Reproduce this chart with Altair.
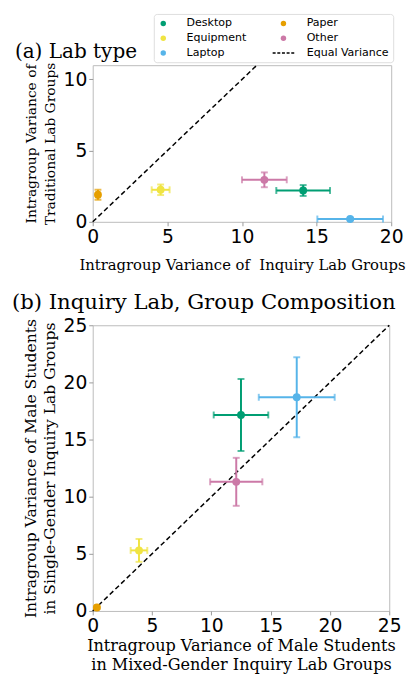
import altair as alt
import pandas as pd

# ---------------- data ----------------
categories = ["Desktop", "Equipment", "Laptop", "Paper", "Other"]
palette = ["#009E73", "#F0E442", "#56B4E9", "#E69F00", "#CC79A7"]
legend_order = ["Desktop", "Equipment", "Laptop", "Paper", "Other", "Equal Variance"]

# (a) Lab type: x = inquiry lab variance, y = traditional lab variance
a_x = [14.1, 4.55, 17.25, 0.35, 11.5]
a_xerr = [1.8, 0.6, 2.2, 0.1, 1.5]
a_y = [2.2, 2.25, 0.2, 1.9, 2.95]
a_yerr = [0.38, 0.37, 0.08, 0.35, 0.52]

# (b) Inquiry lab, group composition
b_x = [12.5, 3.9, 17.2, 0.35, 12.1]
b_xerr = [2.3, 0.7, 3.2, 0.1, 2.2]
b_y = [17.15, 5.3, 18.7, 0.3, 11.3]
b_yerr = [3.15, 1.0, 3.5, 0.1, 2.1]

diag_a = [0, 11]
diag_b = [0, 25]

ticks_a_x = [0, 5, 10, 15, 20]
ticks_a_y = [0, 5, 10]
ticks_b = [0, 5, 10, 15, 20, 25]


def frame(xs, xe, ys, ye):
    df = pd.DataFrame({"cat": categories, "x": xs, "xerr": xe, "y": ys, "yerr": ye})
    df["xlo"] = df["x"] - df["xerr"]
    df["xhi"] = df["x"] + df["xerr"]
    df["ylo"] = df["y"] - df["yerr"]
    df["yhi"] = df["y"] + df["yerr"]
    return df


df_a = frame(a_x, a_xerr, a_y, a_yerr)
df_b = frame(b_x, b_xerr, b_y, b_yerr)
dg_a = pd.DataFrame({"x": diag_a, "y": diag_a})
dg_b = pd.DataFrame({"x": diag_b, "y": diag_b})

color_map = dict(zip(categories, palette))
legend_range = [color_map.get(c, "black") for c in legend_order]


def dash_rects():
    # five short filled dashes, in symbol units (scaled by sqrt(size)/2)
    starts = [-4.0, -2.275, -0.55, 1.175, 2.9]
    parts = []
    for s in starts:
        e = s + 1.1
        parts.append(f"M{s:.3f},-0.28H{e:.3f}V0.28H{s:.3f}Z")
    return "".join(parts)


dash_path = dash_rects()
shape_range = ["circle" if c != "Equal Variance" else dash_path for c in legend_order]

bar_scale = alt.Scale(domain=categories, range=palette)          # marks (no legend)
leg_scale = alt.Scale(domain=legend_order, range=legend_range)   # legend entries
shape_scale = alt.Scale(domain=legend_order, range=shape_range)

legend = alt.Legend(
    title=None, orient="none", legendX=62, legendY=-52, columns=2,
    symbolSize=30, symbolOpacity=1, symbolStrokeWidth=0,
    labelFont="DejaVu Sans", labelFontSize=11.2, labelColor="black",
    padding=4, rowPadding=3, columnPadding=26, labelOffset=18,
    strokeColor="#dddddd", fillColor="white", cornerRadius=3,
)


def panel(df, dg, xdom, ydom, xticks, yticks, xtitle, ytitle, xtfs, ytfs, xtp, ytp,
          ttl, tfs, toff, dx, with_legend, w, h):
    ax_x = alt.Axis(values=xticks, title=xtitle, titlePadding=xtp, titleFontSize=xtfs)
    ax_y = alt.Axis(values=yticks, title=ytitle, titlePadding=ytp, titleFontSize=ytfs)
    sx = alt.Scale(domain=xdom, nice=False, zero=False)
    sy = alt.Scale(domain=ydom, nice=False, zero=False)

    def X(f):
        return alt.X(f + ":Q", scale=sx, axis=ax_x)

    def Y(f):
        return alt.Y(f + ":Q", scale=sy, axis=ax_y)

    col = alt.Color("cat:N", scale=bar_scale, legend=None)
    base = alt.Chart(df)
    diag = alt.Chart(dg).mark_line(color="black", strokeDash=[5, 3], strokeWidth=1.5).encode(
        x=X("x"), y=Y("y"))
    hbar = base.mark_rule(strokeWidth=2).encode(x=X("xlo"), x2="xhi:Q", y=Y("y"), color=col)
    hc1 = base.mark_tick(orient="vertical", size=7, thickness=2).encode(x=X("xlo"), y=Y("y"), color=col)
    hc2 = base.mark_tick(orient="vertical", size=7, thickness=2).encode(x=X("xhi"), y=Y("y"), color=col)
    vbar = base.mark_rule(strokeWidth=2).encode(x=X("x"), y=Y("ylo"), y2="yhi:Q", color=col)
    vc1 = base.mark_tick(orient="horizontal", size=7, thickness=2).encode(x=X("x"), y=Y("ylo"), color=col)
    vc2 = base.mark_tick(orient="horizontal", size=7, thickness=2).encode(x=X("x"), y=Y("yhi"), color=col)
    if with_legend:
        pts = base.mark_point(filled=True, size=64, opacity=1, strokeWidth=0).encode(
            x=X("x"), y=Y("y"),
            fill=alt.Fill("cat:N", scale=leg_scale, legend=legend),
            stroke=alt.Stroke("cat:N", scale=leg_scale, legend=legend),
            shape=alt.Shape("cat:N", scale=shape_scale, legend=legend),
        )
    else:
        pts = base.mark_point(filled=True, size=64, opacity=1, strokeWidth=0).encode(
            x=X("x"), y=Y("y"), color=col)
    return alt.layer(diag, hbar, hc1, hc2, vbar, vc1, vc2, pts).properties(
        width=w, height=h,
        title=alt.TitleParams(ttl, anchor="start", frame="group", dx=dx, offset=toff, fontSize=tfs),
    )


pa = panel(df_a, dg_a, [0, 20], [0, 11], ticks_a_x, ticks_a_y,
           "Intragroup Variance of\u00a0 Inquiry Lab Groups",
           ["Intragroup Variance of", "Traditional Lab Groups"],
           15, 14, 11, 6,
           "(a) Lab type", 20.3, 0, -79, True, 303, 159)
pb = panel(df_b, dg_b, [0, 25], [0, 25], ticks_b, ticks_b,
           ["Intragroup Variance of Male Students", "in Mixed-Gender Inquiry Lab Groups"],
           ["Intragroup Variance of Male Students", "in Single-Gender Inquiry Lab Groups"],
           16.3, 15.8, 2, 6,
           "(b) Inquiry Lab, Group Composition", 21.5, 3, -82, False, 301, 290)

chart = alt.vconcat(pa, pb, spacing=19).resolve_scale(
    x="independent", y="independent"
).properties(
    padding={"left": 3, "top": 0, "right": 0, "bottom": 0}
).configure_view(
    stroke="#bbbbbb", strokeWidth=1
).configure_axis(
    domain=False, grid=False, labelFont="DejaVu Sans", labelFontSize=19,
    labelColor="black", tickColor="#999999", tickSize=4, labelPadding=2,
    titleFont="DejaVu Serif", titleFontWeight="normal",
    titleColor="black", labelFlush=False, titleLineHeight=19,
).configure_title(
    font="DejaVu Serif", fontWeight="normal", color="black", anchor="start"
)

chart.save("out.html", embed_options={"renderer": "svg", "actions": False})
